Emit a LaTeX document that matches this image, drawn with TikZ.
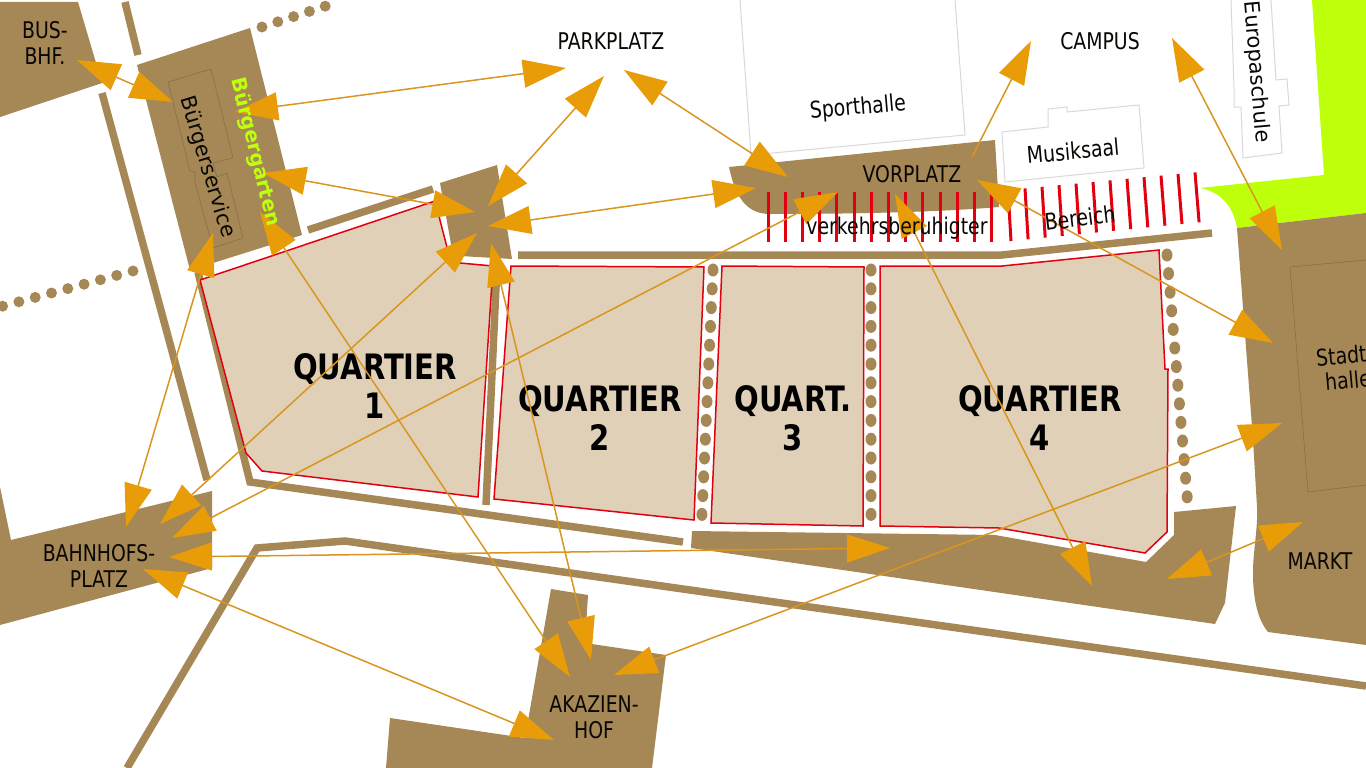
\documentclass[tikz,border=0pt]{standalone}
\usepackage{fontspec}
\setmainfont{DejaVu Sans}[FakeStretch=0.82]
\newfontfamily\sidefont{DejaVu Sans}
\newfontfamily\headfont{DejaVu Sans Bold}[FakeStretch=0.83]
\newfontfamily\gardenfont{DejaVu Sans Bold}
\usetikzlibrary{arrows.meta}
\definecolor{ground}{HTML}{A68756}
\definecolor{plot}{HTML}{E0D0B8}
\definecolor{redline}{HTML}{E2000F}
\definecolor{arrowfill}{HTML}{E89C08}
\definecolor{arrowline}{HTML}{D9951E}
\definecolor{lime}{HTML}{BEFF0C}
\definecolor{wall}{HTML}{D8D8D8}
\definecolor{buildline}{HTML}{8A6F45}

\begin{document}
\begin{tikzpicture}[
    x=1pt, y=-1pt,
    >={Triangle[length=43pt,width=28pt,color=arrowfill]},
    area/.style={fill=ground},
    road/.style={draw=ground, line width=7.5pt},
    quarter/.style={fill=plot, draw=redline, line width=1.5pt},
    stripe/.style={draw=redline, line width=3pt},
    house/.style={draw=wall, line width=1pt},
    outline/.style={draw=buildline, line width=0.6pt},
    place/.style={inner sep=0pt, align=center, text=black!95!ground,
        font=\fontsize{23}{26}\selectfont},
    side/.style={place, font=\sidefont\fontsize{21}{24}\selectfont},
    title/.style={inner sep=0pt, align=center, text=black,
        font=\headfont\fontsize{35}{39}\selectfont},
    link/.style={draw=arrowline, line width=1.5pt, <->},
    oneway/.style={draw=arrowline, line width=1.5pt, ->}
]
    \useasboundingbox (0,0) rectangle (1366,768);
    % green
    \fill[lime] (1312,0) -- (1366,0) -- (1366,213) -- (1237,228)
        .. controls (1233,205) and (1220,192) .. (1200,188) -- (1324,175) -- cycle;
    % buildings
    \draw[house] (740,0) -- (751,155) -- (965,135) -- (955,0);
    \draw[house] (1002,132) -- (1048,127) -- (1048,109) -- (1067,107) -- (1067,112)
        -- (1139,105) -- (1144,168) -- (1005,182) -- cycle;
    \draw[house] (1231,0) -- (1234,88) -- (1234,107) -- (1241,107) -- (1243,158)
        -- (1282,153) -- (1279,106) -- (1289,105) -- (1287,79) -- (1276,80) -- (1271,0);
    % squares
    \fill[area] (0,2) -- (78,2) -- (102,83) -- (0,117) -- cycle;
    \fill[area] (137,65) -- (250,28) -- (302,235) -- (213,263) -- (190,270) -- cycle;
    \fill[area] (440,183) -- (497,165) -- (512,259) -- (460,256) -- (453,255) -- cycle;
    \fill[area] (729,167) -- (995,140) -- (999,207)
        .. controls (930,213) and (830,214) .. (770,214)
        .. controls (745,214) and (735,195) .. cycle;
    \fill[area] (0,487) -- (11,540) -- (212,491) -- (212,568) -- (0,625) -- cycle;
    \fill[area] (551,589) -- (588,595) -- (585,643) -- (666,655) -- (652,768)
        -- (386,768) -- (390,718) -- (525,738) -- cycle;
    \fill[area] (692,531) -- (995,535) -- (1146,562) -- (1174,535) -- (1174,512)
        -- (1236,506) -- (1225,603) -- (1215,624) -- (691,548) -- cycle;
    \fill[area] (1237,228) -- (1366,213) -- (1366,645) -- (1268,632)
        .. controls (1258,620) and (1253,600) .. (1253,573)
        .. controls (1253,550) and (1258,530) .. (1257,507)
        -- (1253,440) -- cycle;
    \draw[outline] (1366,260) -- (1290,267) -- (1308,492) -- (1366,485);
    \draw[outline] (168,82) -- (211,69) -- (233,158) -- (213,163) -- (217,177) -- (227,173)
        -- (243,238) -- (213,248) -- (195,183) -- (195,172) -- (190,171) -- cycle;
    % roads
    \draw[road] (125,2) -- (138,55);
    \draw[road] (102,93) -- (207,480);
    \draw[road] (308,230) -- (433,189);
    \draw[road] (198,272) -- (250,482) -- (683,542);
    \draw[road] (497,265) -- (486,505);
    \draw[road] (518,255) -- (1002,255) -- (1212,233);
    \draw[road] (127,768) -- (257,548) -- (345,541) -- (1366,686);
    % quarters
    \draw[quarter] (200,280) -- (435,201) -- (449,255) -- (460,263) -- (493,266)
        -- (478,497) -- (262,471) -- (246,453) -- cycle;
    \draw[quarter] (511,266) -- (704,267) -- (694,520) -- (494,499) -- cycle;
    \draw[quarter] (722,266) -- (864,267) -- (863,526) -- (711,523) -- cycle;
    \draw[quarter] (880,266) -- (1002,266) -- (1159,250) -- (1165,369) -- (1168,369)
        -- (1167,532) -- (1145,553) -- (999,528) -- (880,526) -- cycle;
    % dots
    \foreach \i in {0,...,4}
        \fill[area] ({262+\i*15.8},{27-\i*5.2}) circle (5.5);
    \foreach \i in {0,...,8}
        \fill[area] ({133-\i*16.3},{271+\i*4.4}) circle (5.5);
    \foreach \i in {0,...,13} {
        \fill[area] ({713-\i*0.85},{270+\i*18.8}) ellipse [x radius=5.5, y radius=6.5];
        \fill[area] (871,{270+\i*18.8}) ellipse [x radius=5.5, y radius=6.5];
        \fill[area] ({1167+\i*1.55},{255+\i*18.6}) ellipse [x radius=5.5, y radius=6.5];
    }
    % traffic-calmed area
    \foreach \i in {0,...,13}
        \draw[stripe] ({768+\i*17.2},192) -- ({768+\i*17.2},242);
    \foreach \i in {0,...,11}
        \draw[stripe] ({1008+\i*17},{190-\i*1.6}) -- ({1011+\i*17.1},{241-\i*1.7});
    % labels
    \node[place] (busbhf) at (45,43) {BUS-\\BHF.};
    \node[side, rotate=-73] (service) at (207,167) {Bürgerservice};
    \node[place] (parkplatz) at (611,41) {PARKPLATZ};
    \node[place, rotate=5] (sporthalle) at (858,108) {Sporthalle};
    \node[place] (campus) at (1100,41) {CAMPUS};
    \node[side, rotate=-85] (europa) at (1256,72) {Europaschule};
    \node[place, rotate=5] (musiksaal) at (1073,151) {Musiksaal};
    \node[place] (vorplatz) at (912,174) {VORPLATZ};
    \node[place, anchor=west, rotate=5] (stadthalle) at (1316,358) {Stadt};
    \node[place, anchor=west, rotate=5] (halle) at (1325,382) {halle};
    \node[place] (markt) at (1320,561) {MARKT};
    \node[place] (bahnhof) at (99,566) {BAHNHOFS-\\PLATZ};
    \node[place] (akazien) at (594,717) {AKAZIEN-\\HOF};
    \node[title] (quartier1) at (375,386) {QUARTIER\\1};
    \node[title] (quartier2) at (600,418) {QUARTIER\\2};
    \node[title] (quartier3) at (793,418) {QUART.\\3};
    \node[title] (quartier4) at (1040,418) {QUARTIER\\4};
    % arrow ends
    \coordinate (busend) at (77,60);
    \coordinate (servicetop) at (173,102);
    \coordinate (gartentop) at (235,112);
    \coordinate (parkleft) at (566,68);
    \coordinate (gartenmid) at (263,173);
    \coordinate (hubleft) at (475,212);
    \coordinate (hubtop) at (488,206);
    \coordinate (parkmid) at (604,76);
    \coordinate (hubright) at (488,226);
    \coordinate (vorleft) at (756,188);
    \coordinate (parkright) at (624,70);
    \coordinate (vortop) at (788,177);
    \coordinate (vorout) at (972,157);
    \coordinate (campusleft) at (1031,41);
    \coordinate (campusright) at (1172,38);
    \coordinate (halletop) at (1282,250);
    \coordinate (vorright) at (977,180);
    \coordinate (hallemid) at (1273,343);
    \coordinate (hubdown) at (477,233);
    \coordinate (bahntop) at (160,524);
    \coordinate (hubbottom) at (491,243);
    \coordinate (akatop) at (591,660);
    \coordinate (gartenlow) at (260,212);
    \coordinate (akaleft) at (570,677);
    \coordinate (servicelow) at (213,233);
    \coordinate (bahnleft) at (126,527);
    \coordinate (vorlow) at (838,192);
    \coordinate (bahnright) at (172,538);
    \coordinate (bahnmid) at (169,557);
    \coordinate (southmid) at (890,548);
    \coordinate (bahnlow) at (143,569);
    \coordinate (akalow) at (554,740);
    \coordinate (vordown) at (895,194);
    \coordinate (southright) at (1092,586);
    \coordinate (akaright) at (614,675);
    \coordinate (hallelow) at (1282,423);
    \coordinate (marktend) at (1303,522);
    \coordinate (southend) at (1167,579);
    % arrows
    \draw[link] (busend) -- (servicetop);
    \draw[link] (gartentop) -- (parkleft);
    \draw[link] (gartenmid) -- (hubleft);
    \draw[link] (hubtop) -- (parkmid);
    \draw[link] (hubright) -- (vorleft);
    \draw[link] (parkright) -- (vortop);
    \draw[oneway] (vorout) -- (campusleft);
    \draw[link] (campusright) -- (halletop);
    \draw[link] (vorright) -- (hallemid);
    \draw[link] (hubdown) -- (bahntop);
    \draw[link] (hubbottom) -- (akatop);
    \draw[link] (gartenlow) -- (akaleft);
    \draw[link] (servicelow) -- (bahnleft);
    \draw[link] (vorlow) -- (bahnright);
    \draw[link] (bahnmid) -- (southmid);
    \draw[link] (bahnlow) -- (akalow);
    \draw[link] (vordown) -- (southright);
    \draw[link] (akaright) -- (hallelow);
    \draw[link] (marktend) -- (southend);
    % labels lying over the arrows
    \node[place, rotate=-76, text=lime, font=\gardenfont\fontsize{20}{24}\selectfont] (garten) at (255,152) {Bürgergarten};
    \node[place] (verkehr) at (897,228) {verkehrsberuhigter};
    \node[place, rotate=7] (bereich) at (1080,218) {Bereich};
\end{tikzpicture}
\end{document}
